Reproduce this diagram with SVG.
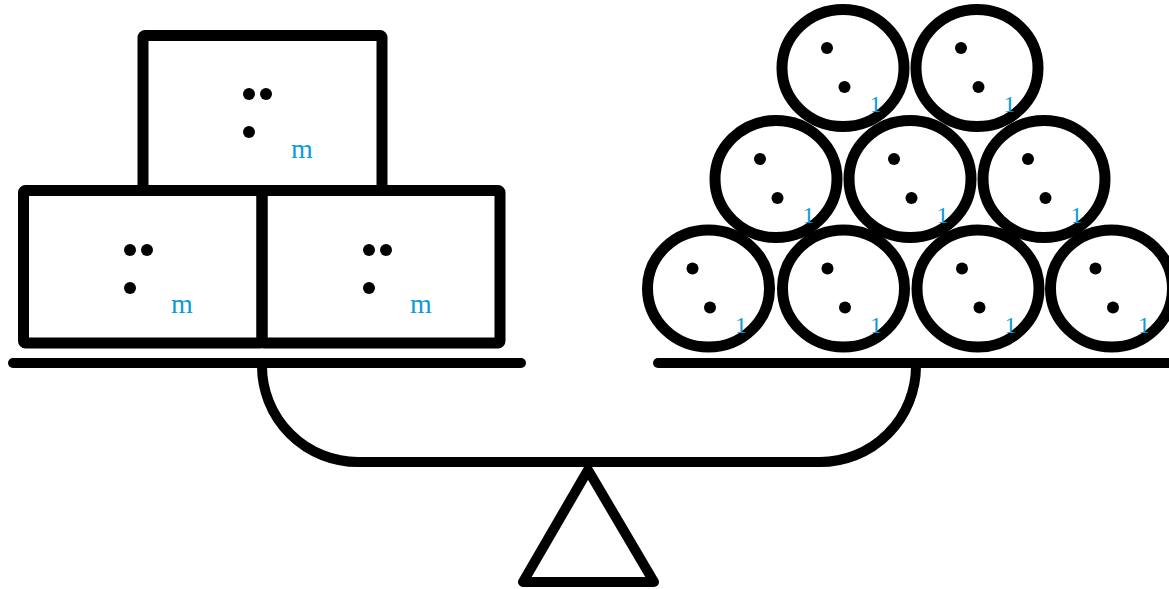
<svg xmlns="http://www.w3.org/2000/svg" width="1169" height="589" viewBox="0 0 1169 589">
<style>
.s{fill:none;stroke:#000;stroke-width:10;stroke-linejoin:round;stroke-linecap:round}
.b{stroke-width:11}
.d{fill:#000}
.t{font-family:"Liberation Serif","Times New Roman",serif;fill:#0a9bd8}
.m{font-size:28px}
.o{font-size:24px}
</style>
<defs>
<g id="dots3"><circle class="d" cx="0" cy="0" r="6"/><circle class="d" cx="17" cy="0" r="6"/><circle class="d" cx="0" cy="38" r="6"/></g>
<g id="ball"><ellipse class="s b" cx="0" cy="0" rx="61" ry="58.5"/><circle class="d" cx="-16" cy="-20" r="6"/><circle class="d" cx="1.5" cy="19" r="6"/><text class="t o" x="26.5" y="44">1</text></g>
</defs>
<g id="scale">
<path class="s" d="M13,363 H521"/>
<path class="s" d="M658,363 H1175"/>
<path class="s" d="M262,363 V366 A96,96 0 0 0 358,462 H820 A96,96 0 0 0 916,366 V363"/>
<polygon class="s" points="588,470 523,582 654,582"/>
</g>
<g id="box-top">
<rect class="s b" x="143" y="35.5" width="239" height="155" rx="2"/>
<use href="#dots3" x="249" y="94"/>
<text class="t m" x="291" y="158">m</text>
</g>
<g id="box-left">
<rect class="s b" x="23.5" y="190.5" width="238.5" height="152.5" rx="2"/>
<use href="#dots3" x="130" y="250"/>
<text class="t m" x="171" y="313">m</text>
</g>
<g id="box-right">
<rect class="s b" x="262" y="190.5" width="238" height="152.5" rx="2"/>
<use href="#dots3" x="369" y="250"/>
<text class="t m" x="410" y="313">m</text>
</g>
<g id="ball-1"><use href="#ball" x="708.5" y="288.5"/></g>
<g id="ball-2"><use href="#ball" x="843.5" y="288.5"/></g>
<g id="ball-3"><use href="#ball" x="978" y="288.5"/></g>
<g id="ball-4"><use href="#ball" x="1111.5" y="288.5"/></g>
<g id="ball-5"><use href="#ball" x="776" y="179"/></g>
<g id="ball-6"><use href="#ball" x="910" y="179"/></g>
<g id="ball-7"><use href="#ball" x="1044" y="179"/></g>
<g id="ball-8"><use href="#ball" x="843" y="68"/></g>
<g id="ball-9"><use href="#ball" x="977" y="68"/></g>
</svg>
